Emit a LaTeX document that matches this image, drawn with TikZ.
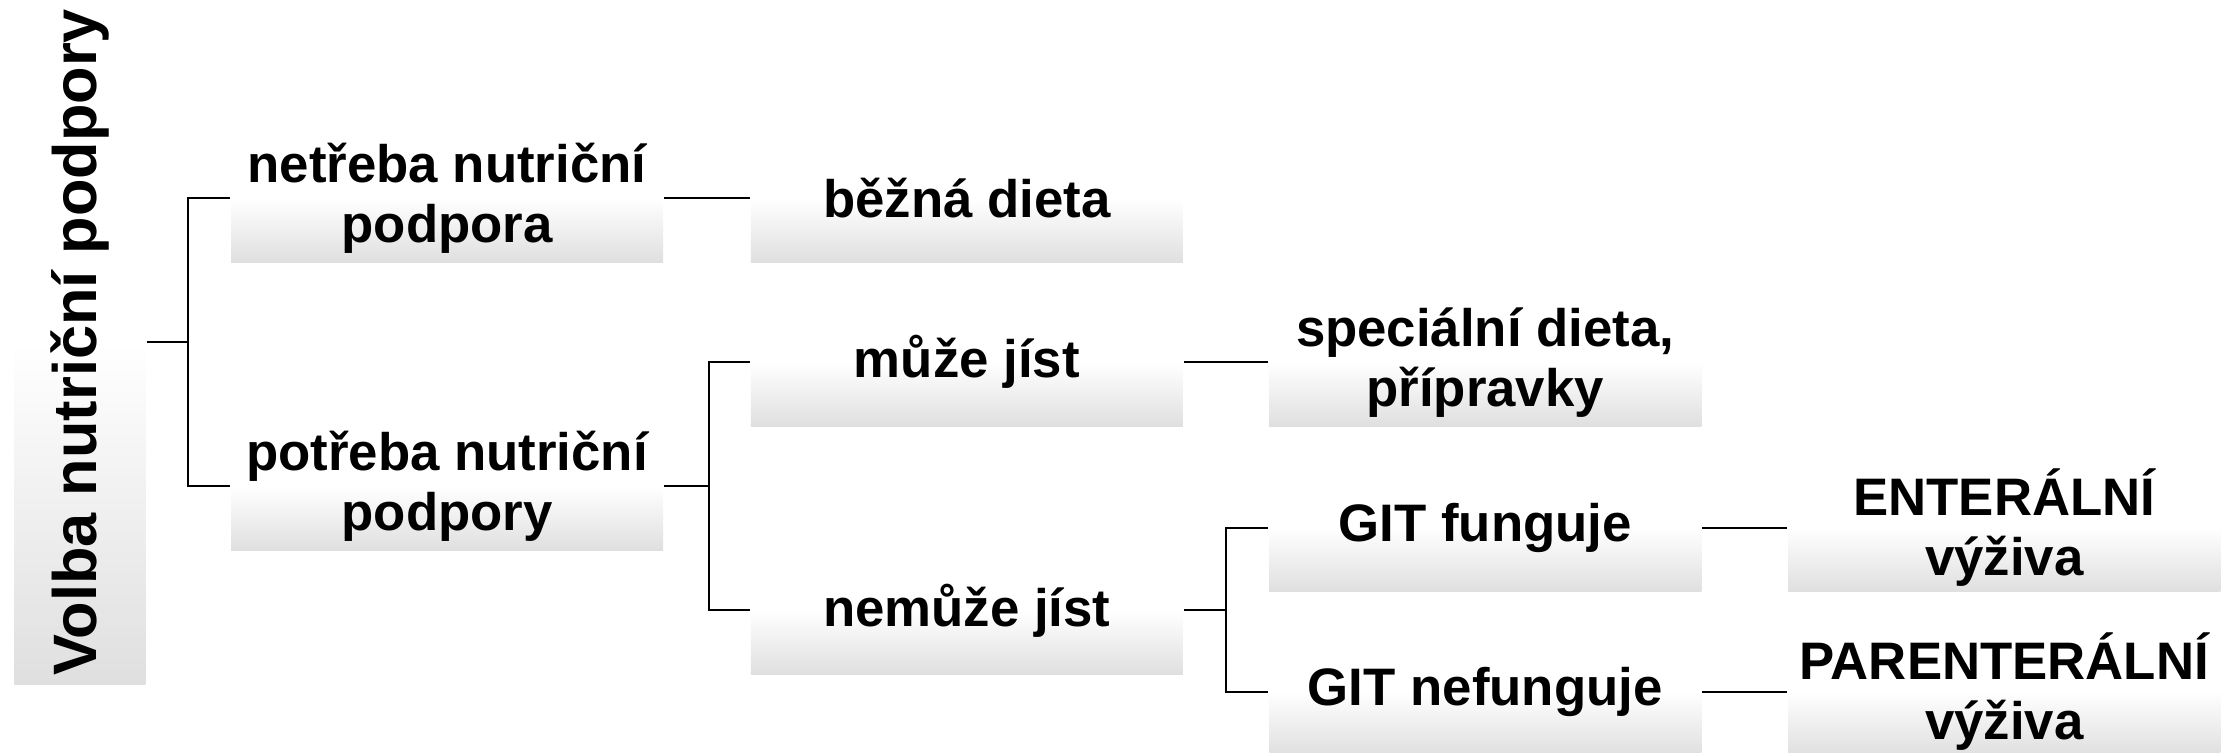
\documentclass[tikz,border=0pt]{standalone}
\usepackage{fontspec}
\setmainfont{Liberation Sans}

\begin{document}
\begin{tikzpicture}
  [x=1pt,y=-1pt,line width=1.5pt,
   every node/.style={rectangle,top color=white,bottom color=gray!25,middle color=white,
     minimum width=303pt,minimum height=90pt,inner sep=0pt,align=center,
     font=\bfseries\fontsize{37}{42}\selectfont}]
  \useasboundingbox (0,0) rectangle (1568,528);
  \node[rotate=90,minimum width=480pt,minimum height=92pt,
    font=\bfseries\fontsize{43}{48}\selectfont] (v) at (56,240) {Volba nutriční podpory};
  \node (a) at (313.5,139) {netřeba nutriční\\podpora};
  \node (b) at (313.5,341) {potřeba nutriční\\podpory};
  \node (c) at (678,139) {běžná dieta};
  \node (d) at (678,254) {může jíst};
  \node (e) at (678,428) {nemůže jíst};
  \node (f) at (1041.5,254) {speciální dieta,\\přípravky};
  \node (g) at (1041.5,370) {GIT funguje};
  \node (h) at (1041.5,485) {GIT nefunguje};
  \node (i) at (1405.5,370) {ENTERÁLNÍ\\výživa};
  \node (j) at (1405.5,485) {PARENTERÁLNÍ\\výživa};
  \coordinate (k1) at (132,240);
  \coordinate (k2) at (497,341);
  \coordinate (k3) at (860,428);
  \draw (v.south) -- (k1);
  \draw (a.west) -| (k1) |- (b.west);
  \draw (b.east) -- (k2);
  \draw (d.west) -| (k2) |- (e.west);
  \draw (e.east) -- (k3);
  \draw (g.west) -| (k3) |- (h.west);
  \foreach \from/\to in {a/c,d/f,g/i,h/j}
    \draw (\from.east) -- (\to.west);
\end{tikzpicture}
\end{document}
